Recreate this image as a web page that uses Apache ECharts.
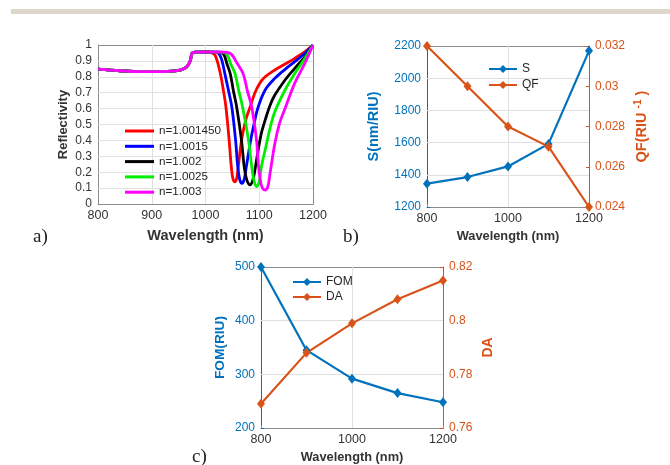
<!DOCTYPE html>
<html><head><meta charset="utf-8">
<script src="https://cdn.jsdelivr.net/npm/echarts@6/dist/echarts.min.js"></script>
<style>html,body{margin:0;padding:0;background:#fff}#c{width:670px;height:465px}</style>
</head><body><div id="c"></div>
<script>
// ---- Panel a: reflectivity spectra ----
var seriesNamesA = ['n=1.001450','n=1.0015','n=1.002','n=1.0025','n=1.003'];
var coloursA = ['#ff0000','#0000ff','#000000','#00ee00','#ff00ff'];
var commonA = [[800,0.848],[840,0.838],[880,0.832],[920,0.833],[950,0.84],[962,0.855],[968,0.875],[972,0.905],[975,0.948],[980,0.955],[1000,0.956]];
var redA = [[1010,0.952],[1018,0.935],[1027,0.83],[1033,0.72],[1038,0.61],[1044,0.40],[1048,0.235],[1051,0.16],[1055,0.14],[1058,0.16],[1061,0.235],[1067,0.40],[1075,0.53],[1083,0.61],[1092,0.70],[1101,0.76],[1111,0.80],[1129,0.843],[1148,0.88],[1166,0.916],[1185,0.958],[1200,1.0]];
var blueA = [[1015,0.955],[1024,0.948],[1030,0.91],[1036,0.82],[1043,0.71],[1049,0.61],[1056,0.40],[1060,0.235],[1064,0.15],[1068,0.13],[1072,0.155],[1076,0.235],[1084,0.40],[1092,0.53],[1098,0.61],[1111,0.717],[1129,0.79],[1148,0.847],[1166,0.895],[1185,0.948],[1200,1.0]];
var blackA = [[1020,0.955],[1033,0.945],[1040,0.88],[1046,0.82],[1052,0.71],[1058,0.61],[1067,0.40],[1072,0.235],[1077,0.15],[1083,0.12],[1088,0.15],[1092,0.214],[1098,0.34],[1104,0.446],[1111,0.528],[1120,0.62],[1129,0.685],[1148,0.78],[1166,0.853],[1185,0.926],[1200,1.0]];
var greenA = [[1025,0.955],[1039,0.945],[1047,0.88],[1055,0.82],[1062,0.71],[1069,0.61],[1080,0.40],[1086,0.235],[1090,0.15],[1095,0.11],[1100,0.14],[1104,0.235],[1111,0.34],[1120,0.476],[1129,0.58],[1148,0.717],[1166,0.82],[1185,0.916],[1200,1.0]];
var magentaA = [[1030,0.956],[1047,0.945],[1058,0.89],[1070,0.82],[1078,0.71],[1086,0.61],[1095,0.40],[1098,0.26],[1102,0.15],[1106,0.10],[1111,0.088],[1116,0.11],[1120,0.19],[1129,0.38],[1138,0.51],[1148,0.60],[1166,0.76],[1185,0.886],[1200,1.0]];
var xGridA = [900,1000,1100];
var yGridA = [0.1,0.2,0.3,0.4,0.5,0.6,0.7,0.8,0.9];

// ---- Panels b and c ----
var wavelengthBC = [800,900,1000,1100,1200];
var sData = [1345,1386,1452,1592,2170];
var qfData = [0.032,0.030,0.028,0.027,0.024];
var fomData = [500,345,292,265,248];
var daData = [0.769,0.788,0.799,0.808,0.815];
var xGridB = [1000], yGridB = [1400,1600,1800,2000];
var xGridC = [1000], yGridC = [300,400];

var BLUE = '#0072BD', ORANGE = '#D95319';
var FONT = 'Liberation Sans';
var GRIDC = '#e0e0e0', AXC = '#8c8c8c';

function pairs(xs, ys){ return xs.map(function(x,i){return [x, ys[i]];}); }
var curvesA = [redA, blueA, blackA, greenA, magentaA].map(function(d){ return commonA.concat(d); });
function plain(v){ return String(+(+v).toFixed(6)); }

var chart = echarts.init(document.getElementById('c'), null, {renderer:'canvas'});

function xAx(grid, min, max, interval, nameGap){
  return {type:'value', gridIndex:grid, min:min, max:max, interval:interval,
    name:'Wavelength (nm)', nameLocation:'middle', nameGap:nameGap,
    nameTextStyle:{fontFamily:FONT, fontWeight:'bold', fontSize: grid===0?14.5:12.8, color:'#333'},
    axisLine:{show:true, lineStyle:{color:AXC}}, axisTick:{show:true, inside:true, length:3, lineStyle:{color:AXC}},
    axisLabel:{fontFamily:FONT, fontSize:12.5, color:'#333', margin:5, formatter:plain},
    splitLine:{show:false}};
}
function yAx(grid, pos, min, max, interval, name, color, nameGap, nameSize){
  var lc = color==='#333'?AXC:color;
  return {type:'value', gridIndex:grid, position:pos, min:min, max:max, interval:interval,
    name:name, nameLocation:'middle', nameGap:nameGap, nameRotate:90,
    nameTextStyle:{fontFamily:FONT, fontWeight:'bold', fontSize:nameSize, color:color,
      rich:{a:{fontFamily:FONT, fontWeight:'bold', fontSize:nameSize, color:color},
            s:{fontFamily:FONT, fontWeight:'bold', fontSize:nameSize*0.7, color:color, verticalAlign:'top', padding:[0,0,8,0]}}},
    axisLine:{show:true, lineStyle:{color:lc}},
    axisTick:{show:true, inside:true, length:3, lineStyle:{color:lc}},
    axisLabel:{fontFamily:FONT, fontSize:12, color:color, margin:6, formatter:plain},
    splitLine:{show:false}};
}

// grid-line carrier series (invisible line, markLines at tick values, drawn beneath data)
function gridCarrier(xi, yi, data, xs, ys){
  var ml = xs.map(function(v){return {xAxis:v};}).concat(ys.map(function(v){return {yAxis:v};}));
  return {type:'line', xAxisIndex:xi, yAxisIndex:yi, data:data, z:2, silent:true, symbol:'none',
    lineStyle:{opacity:0, width:0}, tooltip:{show:false}, animation:false,
    markLine:{z:2, silent:true, symbol:['none','none'], label:{show:false}, animation:false,
      lineStyle:{color:GRIDC, type:'solid', width:1}, emphasis:{disabled:true}, data:ml}};
}

var series = [];
series.push(gridCarrier(0, 0, commonA, xGridA, yGridA));
series.push(gridCarrier(1, 1, pairs(wavelengthBC, sData), xGridB, yGridB));
series.push(gridCarrier(2, 3, pairs(wavelengthBC, fomData), xGridC, yGridC));
curvesA.forEach(function(d,i){
  series.push({name:seriesNamesA[i], type:'line', xAxisIndex:0, yAxisIndex:0, data:d, z:3,
    smooth:0.35, showSymbol:false, symbol:'none', lineStyle:{width:2.8, color:coloursA[i]}, itemStyle:{color:coloursA[i]}, animation:false});
});
function mk(name, x, y, xi, yi, color){
  return {name:name, type:'line', xAxisIndex:xi, yAxisIndex:yi, data:pairs(x,y), z:3,
    symbol:'diamond', symbolSize:[8,10], lineStyle:{width:2.2, color:color}, itemStyle:{color:color}, animation:false, clip:true};
}
series.push(mk('S', wavelengthBC, sData, 1, 1, BLUE));
series.push(mk('QF', wavelengthBC, qfData, 1, 2, ORANGE));
series.push(mk('FOM', wavelengthBC, fomData, 2, 3, BLUE));
series.push(mk('DA', wavelengthBC, daData, 2, 4, ORANGE));

var gridsPos = [[98,45,215,159],[427,46,162,161],[261,267,182,161]];
var boxes = gridsPos.map(function(g){
  return {type:'rect', z:-1, shape:{x:g[0]+0.5, y:g[1]+0.5, width:g[2], height:g[3]}, style:{fill:null, stroke:AXC, lineWidth:1}};
});

var legText = {fontFamily:FONT, fontSize:12, color:'#262626', lineHeight:12};
chart.setOption({
  animation:false,
  tooltip:{show:false},
  textStyle:{fontFamily:FONT},
  grid:gridsPos.map(function(g){ return {left:g[0], top:g[1], width:g[2], height:g[3], show:false}; }),
  xAxis:[ xAx(0, 800, 1200, 100, 24), xAx(1, 800, 1200, 200, 23), xAx(2, 800, 1200, 200, 23) ],
  yAxis:[
    yAx(0, 'left', 0, 1, 0.1, 'Reflectivity', '#333', 28, 13),
    yAx(1, 'left', 1200, 2200, 200, 'S(nm/RIU)', BLUE, 46, 14.5),
    yAx(1, 'right', 0.024, 0.032, 0.002, '{a|QF(RIU }{s|-1}{a| )}', ORANGE, 44, 14.5),
    yAx(2, 'left', 200, 500, 100, 'FOM(RIU)', BLUE, 34, 13.7),
    yAx(2, 'right', 0.76, 0.82, 0.02, 'DA', ORANGE, 38, 14)
  ],
  legend:[
    {data:seriesNamesA, orient:'vertical', left:125, top:124, z:6, itemWidth:29, itemHeight:3, itemGap:1.3, icon:'rect', textStyle:{fontFamily:FONT, fontSize:11.7, color:'#262626', lineHeight:14}, padding:0},
    {data:['S','QF'], orient:'vertical', left:488, top:63, z:6, itemWidth:28, itemHeight:10, itemGap:4, textStyle:legText, padding:0},
    {data:['FOM','DA'], orient:'vertical', left:292, top:276, z:6, itemWidth:28, itemHeight:10, itemGap:3, textStyle:legText, padding:0}
  ],
  graphic:[
    {type:'rect', shape:{x:11, y:9, width:659, height:5}, style:{fill:'#dcd7c9'}},
    {type:'text', left:33, top:228, style:{text:'a)', font:'19px "Liberation Serif"', fill:'#222'}},
    {type:'text', left:343, top:228, style:{text:'b)', font:'19px "Liberation Serif"', fill:'#222'}},
    {type:'text', left:192, top:448, style:{text:'c)', font:'19px "Liberation Serif"', fill:'#222'}}
  ].concat(boxes),
  series:series
});
</script></body></html>
